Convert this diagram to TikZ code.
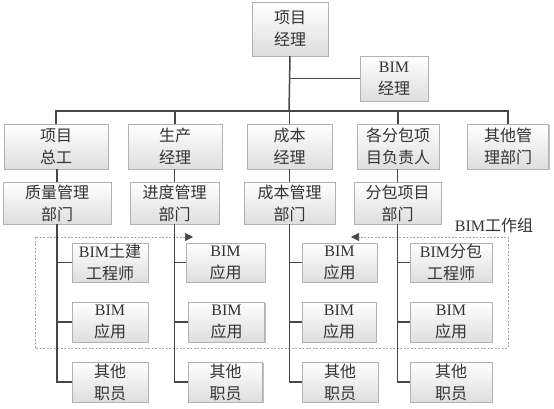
\documentclass[tikz,border=0pt]{standalone}
\usepackage{fontspec}
\setmainfont{Noto Sans CJK SC}
\newfontfamily\tnr{Liberation Serif}
\usetikzlibrary{shadows,arrows.meta}
\newcommand\bim{{\tnr\fontsize{16}{22}\selectfont BIM}}
\tikzset{gtip/.tip={Triangle[length=8pt,width=8pt,color=black!72,fill=black!72]}}
\begin{document}
\begin{tikzpicture}[x=1pt,y=-1pt,
  box/.style={draw=black!30, top color=white, bottom color=black!13,
    drop shadow={shadow xshift=1.3pt,shadow yshift=-1.3pt,opacity=0.25,fill=black},
    align=center, inner sep=0pt, font=\fontsize{16}{22}\selectfont, text=black!80},
  conn/.style={draw=black!72, line width=1.5pt},
  grp/.style={draw=black!35, line width=0.6pt, dash pattern=on 2pt off 1.5pt},
  lbl/.style={font=\fontsize{16}{22}\selectfont, text=black!80, inner sep=0pt}
]
\useasboundingbox[fill=white] (0,0) rectangle (554,408);

% top
\node[box, minimum width=76pt, minimum height=54pt] (pm) at (290,29) {项目\\经理};
\node[box, minimum width=68pt, minimum height=45pt] (bimm) at (394,78.5) {\bim\\经理};

% level 2
\node[box, minimum width=104pt, minimum height=45pt] (a2) at (56,146.5) {项目\\总工};
\node[box, minimum width=94pt, minimum height=45pt] (b2) at (175,146.5) {生产\\经理};
\node[box, minimum width=85pt, minimum height=45pt] (c2) at (289.5,146.5) {成本\\经理};
\node[box, minimum width=82pt, minimum height=45pt] (d2) at (398,146.5) {各分包项\\目负责人};
\node[box, minimum width=81pt, minimum height=45pt] (e2) at (508,146.5) {其他管\\理部门};

% level 3
\node[box, minimum width=108pt, minimum height=42pt] (a3) at (57,203) {质量管理\\部门};
\node[box, minimum width=89pt, minimum height=42pt] (b3) at (174.5,203) {进度管理\\部门};
\node[box, minimum width=91pt, minimum height=42pt] (c3) at (289.5,203) {成本管理\\部门};
\node[box, minimum width=87pt, minimum height=42pt] (d3) at (397.5,203) {分包项目\\部门};

% group frame
\coordinate (gl) at (193,237);
\coordinate (gr) at (351,237);
\draw[grp, gtip-gtip] (gl) -- (35,237) -- (35,348) -- (508,348) -- (508,237) -- (gr);
\node[lbl] (glbl) at (494,225) {\bim 工作组};

% level 4
\node[box, minimum width=76pt, minimum height=39pt] (a41) at (110,262.5) {\bim 土建\\工程师};
\node[box, minimum width=76pt, minimum height=40pt] (a42) at (110,322) {\bim\\应用};
\node[box, minimum width=76pt, minimum height=40pt] (a43) at (110,382) {其他\\职员};

\node[box, minimum width=79pt, minimum height=39pt] (b41) at (225.5,262.5) {\bim\\应用};
\node[box, minimum width=76pt, minimum height=40pt] (b42) at (226.5,322) {\bim\\应用};
\node[box, minimum width=74pt, minimum height=40pt] (b43) at (225.5,382) {其他\\职员};

\node[box, minimum width=75pt, minimum height=39pt] (c41) at (339.5,262.5) {\bim\\应用};
\node[box, minimum width=74pt, minimum height=40pt] (c42) at (339,322) {\bim\\应用};
\node[box, minimum width=76pt, minimum height=40pt] (c43) at (340,382) {其他\\职员};

\node[box, minimum width=82pt, minimum height=39pt] (d41) at (451,262.5) {\bim 分包\\工程师};
\node[box, minimum width=82pt, minimum height=40pt] (d42) at (451,322) {\bim\\应用};
\node[box, minimum width=82pt, minimum height=40pt] (d43) at (451,382) {其他\\职员};

% connectors
\coordinate (bus) at (289,111);
\draw[conn] (pm.south) -- (bus);
\draw[conn] (pm.south |- bimm.west) -- (bimm.west);
\draw[conn] (a2.north) |- (bus) -| (e2.north);
\draw[conn] (b2.north) -- (b2.north |- bus);
\draw[conn] (c2.north) -- (c2.north |- bus);
\draw[conn] (d2.north) -- (d2.north |- bus);

\foreach \p/\q in {a2/a3,b2/b3,c2/c3,d2/d3}{
  \draw[conn] (\q.north |- \p.south) -- (\q.north);
}
\foreach \q/\rr in {a3/a4,b3/b4,c3/c4,d3/d4}{
  \draw[conn] (\q.south) |- (\rr3.west);
  \draw[conn] (\q.south |- \rr1.west) -- (\rr1.west);
  \draw[conn] (\q.south |- \rr2.west) -- (\rr2.west);
}
\end{tikzpicture}
\end{document}
